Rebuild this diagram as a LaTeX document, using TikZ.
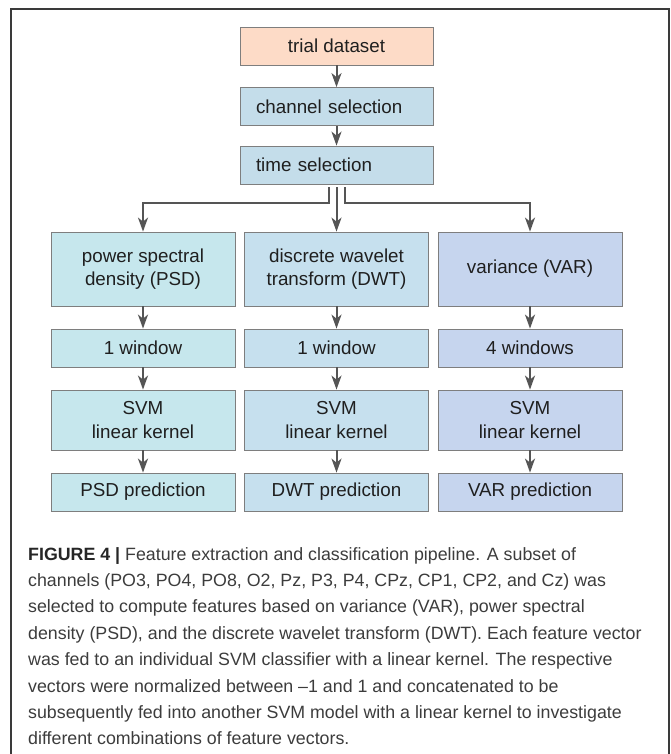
\documentclass[tikz,border=0pt]{standalone}
\usepackage{fontspec}
\setmainfont{Liberation Sans}
\usepackage{xcolor}
\usetikzlibrary{arrows.meta}

\definecolor{peach}{HTML}{FDDBC7}
\definecolor{selblue}{HTML}{C4DDEA}
\definecolor{psdcol}{HTML}{C6E7ED}
\definecolor{dwtcol}{HTML}{C6E0EE}
\definecolor{varcol}{HTML}{C6D5EE}
\definecolor{boxline}{HTML}{7E7E7E}
\definecolor{arrowgray}{HTML}{555555}
\definecolor{framegray}{HTML}{3A3A3A}
\definecolor{capgray}{HTML}{3C3C3C}

\tikzset{
	box/.style={draw=boxline, line width=0.8pt, minimum height=38pt, inner sep=0pt,
		text=black!88, font=\fontsize{18.8}{23.5}\selectfont, align=center},
	colbox/.style={box, minimum width=184pt},
	selbox/.style={box, fill=selblue, text width=161pt, inner xsep=16pt, align=left},
	conn/.style={draw=arrowgray, line width=2pt, -{Stealth[length=14pt,width=10pt,inset=4pt]}},
	caption/.style={anchor=north west, inner sep=0pt, align=left, text=capgray,
		font=\fontsize{17.8}{26.4}\selectfont},
}

\begin{document}
\begin{tikzpicture}[x=1pt,y=-1pt]
	\useasboundingbox (0,0) rectangle (670,754);
	%%  Frame  %%%%%%%%
	\draw[framegray, line width=1.5pt] (11,760) -- (11,9) -- (669,9) -- (669,760);

	%%  Top chain  %%%%%%%%
	\node[box, fill=peach, minimum width=193pt] (trial) at (336.5,46) {trial dataset};
	\node[selbox] (chan) at (336.5,106.5) {channel selection};
	\node[selbox] (time) at (336.5,165) {time selection};
	\draw[conn] (trial.south) -- (chan.north);
	\draw[conn] (chan.south) -- (time.north);

	%%  Feature boxes  %%%%%%%%
	\node[colbox, fill=psdcol, minimum height=74pt] (psd) at (143,269) {power spectral\\density (PSD)};
	\node[colbox, fill=dwtcol, minimum height=74pt] (dwt) at (336.5,269) {discrete wavelet\\transform (DWT)};
	\node[colbox, fill=varcol, minimum height=74pt] (var) at (530,269) {variance (VAR)};

	\draw[conn] ([xshift=-8pt,yshift=-3pt]time.south) -- ++(0,16) -| (psd.north);
	\draw[conn] ([yshift=-3pt]time.south) -- (dwt.north);
	\draw[conn] ([xshift=8pt,yshift=-3pt]time.south) -- ++(0,16) -| (var.north);

	%%  Windows  %%%%%%%%
	\node[colbox, fill=psdcol] (psdwin) at (143,348) {1 window};
	\node[colbox, fill=dwtcol] (dwtwin) at (336.5,348) {1 window};
	\node[colbox, fill=varcol] (varwin) at (530,348) {4 windows};

	%%  Classifiers  %%%%%%%%
	\node[colbox, fill=psdcol, minimum height=60pt] (psdsvm) at (143,420) {SVM\\linear kernel};
	\node[colbox, fill=dwtcol, minimum height=60pt] (dwtsvm) at (336.5,420) {SVM\\linear kernel};
	\node[colbox, fill=varcol, minimum height=60pt] (varsvm) at (530,420) {SVM\\linear kernel};

	%%  Predictions  %%%%%%%%
	\node[colbox, fill=psdcol] (psdpred) at (143,492) {PSD prediction};
	\node[colbox, fill=dwtcol] (dwtpred) at (336.5,492) {DWT prediction};
	\node[colbox, fill=varcol] (varpred) at (530,492) {VAR prediction};

	\draw[conn] (psd.south) -- (psdwin.north);
	\draw[conn] (dwt.south) -- (dwtwin.north);
	\draw[conn] (var.south) -- (varwin.north);
	\draw[conn] (psdwin.south) -- (psdsvm.north);
	\draw[conn] (dwtwin.south) -- (dwtsvm.north);
	\draw[conn] (varwin.south) -- (varsvm.north);
	\draw[conn] (psdsvm.south) -- (psdpred.north);
	\draw[conn] (dwtsvm.south) -- (dwtpred.north);
	\draw[conn] (varsvm.south) -- (varpred.north);

	%%  Caption  %%%%%%%%
	\node[caption] (cap) at (28,547) {\textbf{\color{black!85}FIGURE 4 |} Feature extraction and classification pipeline. A subset of\\
		channels (PO3, PO4, PO8, O2, Pz, P3, P4, CPz, CP1, CP2, and Cz) was\\
		selected to compute features based on variance (VAR), power spectral\\
		density (PSD), and the discrete wavelet transform (DWT). Each feature vector\\
		was fed to an individual SVM classifier with a linear kernel. The respective\\
		vectors were normalized between –1 and 1 and concatenated to be\\
		subsequently fed into another SVM model with a linear kernel to investigate\\
		different combinations of feature vectors.};
\end{tikzpicture}
\end{document}
